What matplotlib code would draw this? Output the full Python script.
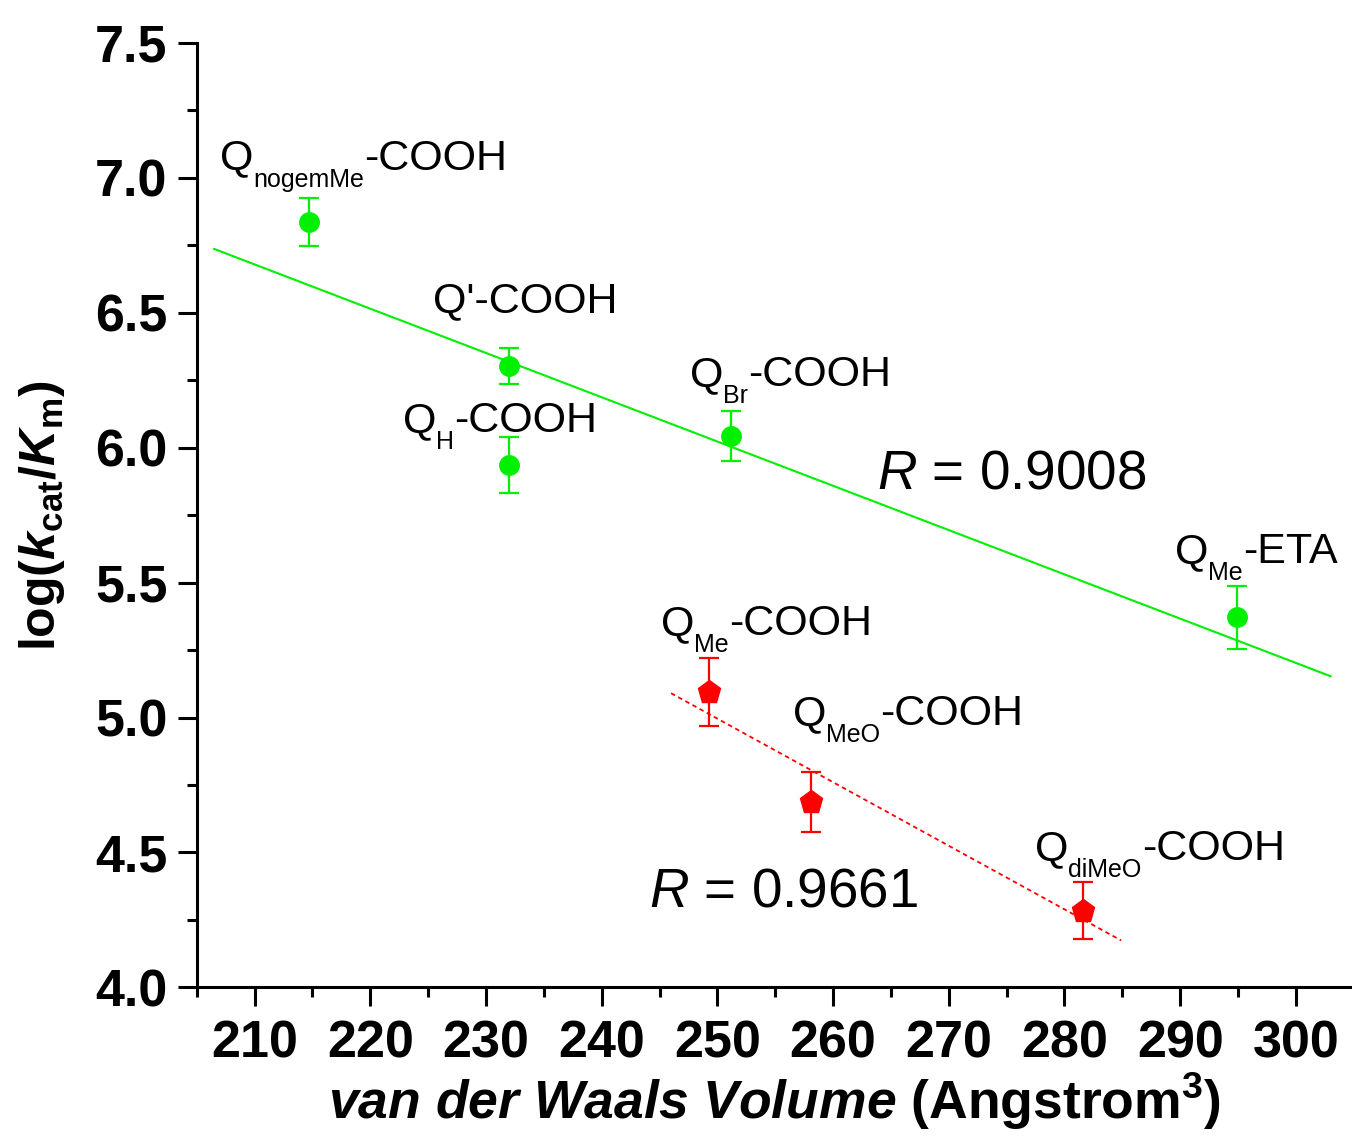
import matplotlib
matplotlib.use("Agg")
import matplotlib.pyplot as plt
from matplotlib.ticker import MultipleLocator

plt.rcParams['font.family'] = ['Liberation Sans', 'DejaVu Sans']
plt.rcParams['mathtext.fontset'] = 'custom'
plt.rcParams['mathtext.rm'] = 'Liberation Sans'
plt.rcParams['mathtext.it'] = 'Liberation Sans:italic'
plt.rcParams['mathtext.bf'] = 'Liberation Sans:bold'
plt.rcParams['mathtext.bfit'] = 'Liberation Sans:bold:italic'

# ---- data ----
green_x = [214.7, 232.0, 232.0, 251.2, 294.9]
green_y = [6.836, 6.303, 5.935, 6.043, 5.372]
green_err = [0.089, 0.067, 0.103, 0.091, 0.117]

red_x = [249.3, 258.1, 281.6]
red_y = [5.094, 4.688, 4.285]
red_err = [0.126, 0.111, 0.104]

green_fit_x = [206.5, 303.0]
green_fit_y = [6.736, 5.153]
red_fit_x = [246.0, 284.9]
red_fit_y = [5.090, 4.174]

# label: (main, subscript, rest)
label_main = ['Q', "Q'-COOH", 'Q', 'Q', 'Q', 'Q', 'Q', 'Q']
label_sub = ['nogemMe', '', 'H', 'Br', 'Me', 'Me', 'MeO', 'diMeO']
label_rest = ['-COOH', '', '-COOH', '-COOH', '-ETA', '-COOH', '-COOH', '-COOH']
label_x = [207.0, 225.4, 222.8, 247.6, 289.55, 245.1, 256.5, 277.45]
label_y = [7.03, 6.50, 6.058, 6.229, 5.573, 5.306, 4.973, 4.473]

r_texts = [r'$R$ = 0.9008', r'$R$ = 0.9661']
r_x = [263.8, 244.1]
r_y = [5.847, 4.299]

xticks = [210, 220, 230, 240, 250, 260, 270, 280, 290, 300]
yticks = [4.0, 4.5, 5.0, 5.5, 6.0, 6.5, 7.0, 7.5]

GREEN = '#00F000'
RED = '#FF0000'

fig = plt.figure(figsize=(13.52, 11.38), dpi=100)
ax = fig.add_axes([0.1455, 0.1323, 0.8545, 0.8302])

ax.plot(green_fit_x, green_fit_y, color=GREEN, lw=1.5, zorder=1)
ax.plot(red_fit_x, red_fit_y, color=RED, lw=1.3, ls=(0, (2.5, 2)), zorder=1)

ax.errorbar(green_x, green_y, yerr=green_err, fmt='o', color=GREEN, ms=14,
            ecolor=GREEN, elinewidth=1.6, capsize=7.5, capthick=1.6, zorder=3)
ax.errorbar(red_x, red_y, yerr=red_err, fmt='p', color=RED, ms=17,
            ecolor=RED, elinewidth=1.6, capsize=7.5, capthick=1.6, zorder=3)

ax.set_xlim(205, 304.85)
ax.set_ylim(4.0, 7.5)

renderer = fig.canvas.get_renderer()
MAIN_FS, SUB_FS, SUB_DROP = 31, 18, -17


def rich_label(x, y, parts):
    off = 0.0
    for txt, fs, dy in parts:
        if not txt:
            continue
        t = ax.annotate(txt, (x, y), xytext=(off, dy), textcoords='offset pixels',
                        fontsize=fs, ha='left', va='baseline')
        off += t.get_window_extent(renderer).width


for m, s, r, x, y in zip(label_main, label_sub, label_rest, label_x, label_y):
    rich_label(x, y, [(m, MAIN_FS, 0), (s, SUB_FS, SUB_DROP), (r, MAIN_FS, 0)])

for t, x, y in zip(r_texts, r_x, r_y):
    ax.text(x, y, t, fontsize=39.5, ha='left', va='baseline')

ax.set_xticks(xticks)
ax.set_yticks(yticks)
ax.set_xticklabels([str(v) for v in xticks])
ax.set_yticklabels([f'{v:.1f}' for v in yticks])
ax.xaxis.set_minor_locator(MultipleLocator(5))
ax.yaxis.set_minor_locator(MultipleLocator(0.25))

for s in ['top', 'right']:
    ax.spines[s].set_visible(False)
for s in ['left', 'bottom']:
    ax.spines[s].set_linewidth(2.2)

ax.tick_params(which='major', length=14, width=2.2, direction='out')
ax.tick_params(which='minor', length=7, width=2.2, direction='out')
ax.tick_params(axis='y', which='major', pad=7)
ax.tick_params(axis='x', which='major', pad=9)
for lab in ax.get_xticklabels() + ax.get_yticklabels():
    lab.set_fontsize(37.5)
    lab.set_fontweight('bold')

ax.set_ylabel(r'log($\mathbfit{k}_{\mathbf{cat}}$/$\mathbfit{K}_{\mathbf{m}}$)',
              fontsize=36, fontweight='bold', labelpad=20)
ax.set_xlabel(r'$\mathbfit{van\ der\ Waals\ Volume}$ (Angstrom$^{\mathbf{3}}$)',
              fontsize=38.5, fontweight='bold', labelpad=2)

fig.savefig('out.png', dpi=100)
